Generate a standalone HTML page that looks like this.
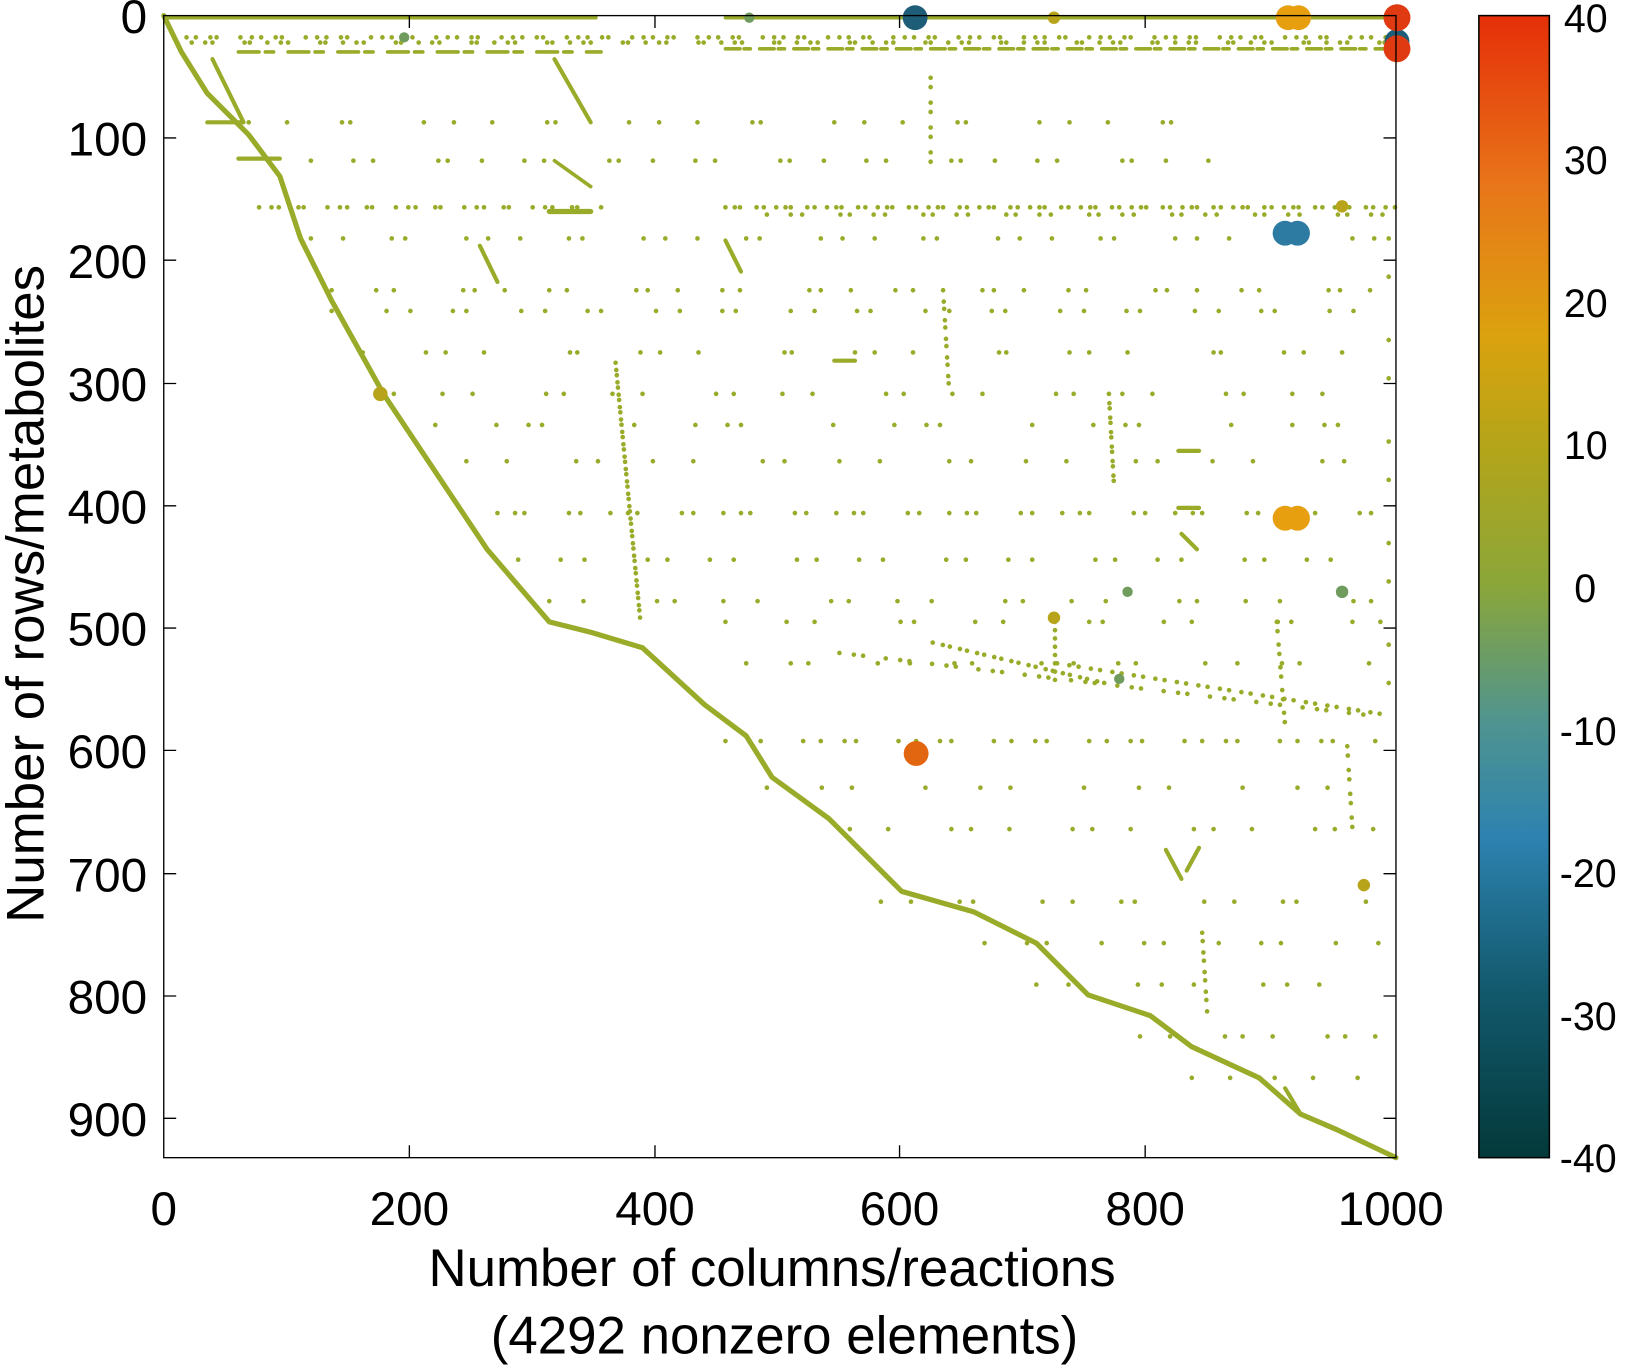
<!DOCTYPE html>
<html><head><meta charset="utf-8"><style>
html,body{margin:0;padding:0;background:#fff;}
svg{display:block;}
text{font-family:"Liberation Sans",sans-serif;fill:#000;}
</style></head><body>
<svg width="1625" height="1365" viewBox="0 0 1568 1317" xmlns="http://www.w3.org/2000/svg">
<defs>
<linearGradient id="cb" x1="0" y1="1" x2="0" y2="0">
<stop offset="0" stop-color="#03393a"/>
<stop offset="0.15" stop-color="#135a6e"/>
<stop offset="0.28" stop-color="#2d82b0"/>
<stop offset="0.38" stop-color="#4f9490"/>
<stop offset="0.5" stop-color="#8aa63a"/>
<stop offset="0.62" stop-color="#b3a51a"/>
<stop offset="0.72" stop-color="#dba20e"/>
<stop offset="0.85" stop-color="#e8761a"/>
<stop offset="1" stop-color="#e52f08"/>
</linearGradient>
</defs>
<g stroke="#9aab2a" fill="none" stroke-linecap="round" stroke-linejoin="round">
<polyline stroke-width="5" points="158,15 175,50 200,90 240,130 270,170 290,230 320,290 370,380 430,470 470,530 530,600 570,610 620,625 680,680 720,710 745,750 800,790 830,820 870,860 940,880 1000,910 1050,960 1110,980 1150,1010 1215,1040 1255,1075 1290,1090 1347,1117"/>
<line x1="160" y1="17" x2="575" y2="17" stroke-width="3.5"/>
<line x1="700" y1="17" x2="1347" y2="17" stroke-width="3.5"/>
<polyline stroke-width="4" points="205,57 235,118 200,118"/>
<line x1="230" y1="153" x2="270" y2="153" stroke-width="4"/>
<line x1="535" y1="57" x2="570" y2="118" stroke-width="4"/>
<line x1="535" y1="155" x2="570" y2="180" stroke-width="3.5"/>
<line x1="530" y1="204" x2="570" y2="204" stroke-width="5"/>
<line x1="700" y1="232" x2="715" y2="262" stroke-width="4"/>
<line x1="463" y1="237" x2="480" y2="272" stroke-width="4"/>
<line x1="1125" y1="820" x2="1140" y2="848" stroke-width="4"/>
<line x1="1145" y1="840" x2="1157" y2="818" stroke-width="4"/>
<line x1="1240" y1="1050" x2="1255" y2="1075" stroke-width="4"/>
<line x1="1140" y1="515" x2="1155" y2="530" stroke-width="4"/>
<line x1="805" y1="348" x2="825" y2="348" stroke-width="4"/>
<line x1="1137" y1="435" x2="1157" y2="435" stroke-width="4"/>
<line x1="1137" y1="490" x2="1157" y2="490" stroke-width="4"/>
<line x1="700" y1="47" x2="1347" y2="47" stroke-width="3.5" stroke-dasharray="14 4 6 9"/>
<line x1="230" y1="50" x2="580" y2="50" stroke-width="3.5" stroke-dasharray="20 6 8 14"/>
</g>
<g stroke="#9aab2a" fill="none" stroke-linecap="round" stroke-width="4.5">
<line x1="180" y1="36" x2="1340" y2="36" stroke-dasharray="0 9 0 14 0 6 0 23 0 11"/>
<line x1="185" y1="41" x2="1340" y2="41" stroke-dasharray="0 13 0 7 0 31 0 5 0 17"/>
<line x1="240" y1="118" x2="1180" y2="118" stroke-dasharray="0 37 0 53 0 8 0 71 0 29"/>
<line x1="300" y1="155" x2="1180" y2="155" stroke-dasharray="0 41 0 19 0 63 0 9 0 33"/>
<line x1="250" y1="200" x2="590" y2="200" stroke-dasharray="0 12 0 7 0 19 0 5 0 23"/>
<line x1="700" y1="200" x2="1347" y2="200" stroke-dasharray="0 9 0 5 0 16 0 7 0 12"/>
<line x1="740" y1="207" x2="1347" y2="207" stroke-dasharray="0 23 0 11 0 37 0 9"/>
<line x1="300" y1="230" x2="1330" y2="230" stroke-dasharray="0 31 0 47 0 13 0 59 0 21"/>
<line x1="320" y1="280" x2="1340" y2="280" stroke-dasharray="0 43 0 17 0 67 0 11 0 29"/>
<line x1="320" y1="300" x2="1340" y2="300" stroke-dasharray="0 53 0 23 0 41 0 13"/>
<line x1="350" y1="340" x2="1340" y2="340" stroke-dasharray="0 61 0 19 0 37 0 83 0 7"/>
<line x1="380" y1="380" x2="1340" y2="380" stroke-dasharray="0 47 0 29 0 71 0 17"/>
<line x1="420" y1="410" x2="1340" y2="410" stroke-dasharray="0 59 0 31 0 13 0 89"/>
<line x1="450" y1="445" x2="1340" y2="445" stroke-dasharray="0 39 0 67 0 21 0 53"/>
<line x1="480" y1="495" x2="1340" y2="495" stroke-dasharray="0 17 0 9 0 43 0 11 0 29"/>
<line x1="500" y1="540" x2="1340" y2="540" stroke-dasharray="0 41 0 23 0 61 0 19"/>
<line x1="530" y1="580" x2="1340" y2="580" stroke-dasharray="0 33 0 71 0 17 0 47"/>
<line x1="810" y1="630" x2="1320" y2="690" stroke-dasharray="0 14 0 9 0 22"/>
<line x1="700" y1="600" x2="1340" y2="600" stroke-dasharray="0 59 0 27 0 83 0 13"/>
<line x1="720" y1="640" x2="1340" y2="640" stroke-dasharray="0 43 0 17 0 67 0 31"/>
<line x1="700" y1="715" x2="1340" y2="715" stroke-dasharray="0 23 0 11 0 41 0 17"/>
<line x1="740" y1="760" x2="1340" y2="760" stroke-dasharray="0 53 0 29 0 71"/>
<line x1="820" y1="800" x2="1340" y2="800" stroke-dasharray="0 37 0 61 0 19"/>
<line x1="850" y1="870" x2="1340" y2="870" stroke-dasharray="0 29 0 47 0 13 0 67"/>
<line x1="950" y1="910" x2="1340" y2="910" stroke-dasharray="0 41 0 19 0 53"/>
<line x1="1000" y1="950" x2="1340" y2="950" stroke-dasharray="0 31 0 67 0 23"/>
<line x1="1100" y1="1000" x2="1340" y2="1000" stroke-dasharray="0 29 0 53 0 17"/>
<line x1="1150" y1="1040" x2="1340" y2="1040" stroke-dasharray="0 37 0 43"/>
<line x1="900" y1="620" x2="1070" y2="660" stroke-dasharray="0 10 0 7"/>
<line x1="1020" y1="640" x2="1340" y2="690" stroke-dasharray="0 12 0 9"/>
<line x1="594" y1="350" x2="618" y2="600" stroke-dasharray="0 7 0 5"/>
<line x1="1018" y1="600" x2="1018" y2="660" stroke-dasharray="0 8"/>
<line x1="1070" y1="380" x2="1075" y2="470" stroke-dasharray="0 9 0 5"/>
<line x1="910" y1="280" x2="916" y2="380" stroke-dasharray="0 11 0 7"/>
<line x1="1232" y1="600" x2="1240" y2="700" stroke-dasharray="0 9 0 13"/>
<line x1="1160" y1="900" x2="1165" y2="980" stroke-dasharray="0 8 0 11"/>
<line x1="1300" y1="720" x2="1305" y2="800" stroke-dasharray="0 9 0 14"/>
<line x1="1340" y1="230" x2="1340" y2="700" stroke-dasharray="0 37 0 61"/>
<line x1="898" y1="75" x2="898" y2="170" stroke-dasharray="0 9 0 15"/>
</g>
<g>
<circle cx="883" cy="17" r="12" fill="#1e5d77"/>
<circle cx="1243" cy="17" r="12" fill="#e79f10"/><circle cx="1253" cy="17" r="12" fill="#e79f10"/>
<circle cx="1348" cy="40" r="12" fill="#1e5d77"/>
<circle cx="1348" cy="17" r="13" fill="#e03a12"/><circle cx="1348" cy="47" r="13" fill="#e03a12"/>
<circle cx="1240" cy="225" r="12" fill="#2d7aa3"/><circle cx="1252" cy="225" r="12" fill="#2d7aa3"/>
<circle cx="1240" cy="500" r="12" fill="#e79f10"/><circle cx="1252" cy="500" r="12" fill="#e79f10"/>
<circle cx="884" cy="727" r="12" fill="#e2650f"/>
<circle cx="367" cy="380" r="7" fill="#b8a41a"/>
<circle cx="1017" cy="596" r="6" fill="#b8a41a"/>
<circle cx="1017" cy="17" r="6" fill="#b8a41a"/>
<circle cx="1295" cy="199" r="6" fill="#b8a41a"/>
<circle cx="1316" cy="854" r="6" fill="#b8a41a"/>
<circle cx="1295" cy="571" r="6" fill="#6f9c5c"/>
<circle cx="1088" cy="571" r="5" fill="#6f9c5c"/>
<circle cx="1080" cy="655" r="5" fill="#6f9c5c"/>
<circle cx="390" cy="36" r="5" fill="#6f9c5c"/>
<circle cx="723" cy="17" r="5" fill="#6f9c5c"/>
</g>
<rect x="158" y="15" width="1189" height="1102" fill="none" stroke="#000" stroke-width="1.3"/>
<g stroke="#000" stroke-width="1.3">
<path d="M395,1117v-12M632,1117v-12M868,1117v-12M1105,1117v-12M395,15v12M632,15v12M868,15v12M1105,15v12"/>
<path d="M158,133h12M158,251h12M158,370h12M158,488h12M158,606h12M158,724h12M158,843h12M158,961h12M158,1079h12"/>
<path d="M1347,133h-12M1347,251h-12M1347,370h-12M1347,488h-12M1347,606h-12M1347,724h-12M1347,843h-12M1347,961h-12M1347,1079h-12"/>
<path d="M1427,153h7M1427,291h7M1427,428h7M1427,566h7M1427,704h7M1427,842h7M1427,980h7M1495,153h-7M1495,291h-7M1495,428h-7M1495,566h-7M1495,704h-7M1495,842h-7M1495,980h-7"/>
</g>
<g font-size="46" text-anchor="middle">
<text x="158" y="1182">0</text><text x="395" y="1182">200</text><text x="632" y="1182">400</text>
<text x="868" y="1182">600</text><text x="1105" y="1182">800</text><text x="1342" y="1182">1000</text>
</g>
<g font-size="46" text-anchor="end">
<text x="142" y="32">0</text><text x="142" y="150">100</text><text x="142" y="268">200</text>
<text x="142" y="387">300</text><text x="142" y="505">400</text><text x="142" y="623">500</text>
<text x="142" y="741">600</text><text x="142" y="860">700</text><text x="142" y="978">800</text>
<text x="142" y="1096">900</text>
</g>
<text x="745" y="1241" font-size="51" text-anchor="middle">Number of columns/reactions</text>
<text x="757" y="1306" font-size="51" text-anchor="middle">(4292 nonzero elements)</text>
<text transform="translate(42,573) rotate(-90)" font-size="51" text-anchor="middle">Number of rows/metabolites</text>
<rect x="1427" y="15" width="68" height="1102" fill="url(#cb)" stroke="#000" stroke-width="1.5"/>
<g font-size="38" text-anchor="start">
<text x="1509" y="31">40</text><text x="1509" y="168">30</text><text x="1509" y="306">20</text>
<text x="1509" y="443">10</text><text x="1519" y="581">0</text><text x="1505" y="719">-10</text>
<text x="1505" y="856">-20</text><text x="1505" y="994">-30</text><text x="1505" y="1131">-40</text>
</g>
</svg>
</body></html>
